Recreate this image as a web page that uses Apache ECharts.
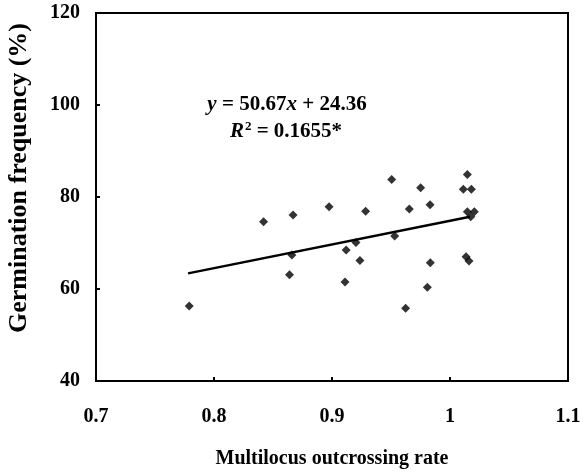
<!DOCTYPE html>
<html><head><meta charset="utf-8">
<script src="https://cdn.jsdelivr.net/npm/echarts@6/dist/echarts.min.js"></script>
<style>html,body{margin:0;padding:0;background:#fff}#c{width:583px;height:472px}</style>
</head><body><div id="c"></div>
<script>
var outcrossing = [0.779,0.842,0.867,0.8975,0.866,0.864,0.912,0.911,0.9506,0.9751,0.9285,0.9655,0.9831,1.0147,1.0113,1.0181,1.0147,1.0206,1.0176,0.9203,0.9531,0.9237,0.9833,0.9808,0.9624,1.0136,1.0161];
var germination = [56.3,74.6,76.1,77.9,67.4,63.1,68.5,61.5,83.8,82.0,76.9,77.4,78.3,84.9,81.7,81.7,76.8,76.8,75.7,70.1,71.5,66.2,65.7,60.4,55.8,67.0,66.1];
var fitLineX = [0.778, 1.017];
var fitLineY = [63.4, 75.7];
var xTicks = [0.7, 0.8, 0.9, 1.0, 1.1];
var yTicks = [40, 60, 80, 100, 120];

var pts = outcrossing.map(function(x,i){return [x, germination[i]];});
var fit = fitLineX.map(function(x,i){return [x, fitLineY[i]];});
var F = 'Liberation Serif';
var chart = echarts.init(document.getElementById('c'), null, {renderer:'canvas'});
chart.setOption({
  animation:false,
  grid:{left:96,right:15,top:13,bottom:91,show:true,borderColor:'#000',borderWidth:2,containLabel:false,outerBoundsMode:'none'},
  xAxis:{type:'value',min:0.7,max:1.1,interval:0.1,
    axisLine:{show:true,onZero:false,lineStyle:{color:'#000',width:2}},
    axisTick:{show:true,inside:true,length:4,lineStyle:{color:'#000',width:2}},
    splitLine:{show:false},
    axisLabel:{margin:26,color:'#000',fontFamily:F,fontWeight:'bold',fontSize:20,
      formatter:function(v){var t=xTicks.find(function(k){return Math.abs(k-v)<1e-6;});return t===undefined?'':String(t);}},
    name:'Multilocus outcrossing rate',nameLocation:'middle',nameGap:68,
    nameTextStyle:{color:'#000',fontFamily:F,fontWeight:'bold',fontSize:20}},
  yAxis:{type:'value',min:40,max:120,interval:20,
    axisLine:{show:true,onZero:false,lineStyle:{color:'#000',width:2}},
    axisTick:{show:true,inside:true,length:4,lineStyle:{color:'#000',width:2}},
    splitLine:{show:false},
    axisLabel:{margin:16,color:'#000',fontFamily:F,fontWeight:'bold',fontSize:20,
      formatter:function(v){var t=yTicks.find(function(k){return Math.abs(k-v)<1e-6;});return t===undefined?'':String(t);}},
    name:''},
  graphic:[
    {type:'text',x:19,y:178,rotation:Math.PI/2,style:{text:'Germination frequency (%)',align:'center',verticalAlign:'middle',
      fill:'#000',fontFamily:F,fontWeight:'bold',fontSize:26}},
    {type:'text',x:287,y:105,style:{text:'{i|y} = 50.67{i|x} + 24.36',align:'center',verticalAlign:'middle',
      fill:'#000',fontFamily:F,fontWeight:'bold',fontSize:21,
      rich:{i:{fontStyle:'italic',fontWeight:'bold',fontFamily:F,fontSize:21}}}},
    {type:'text',x:286,y:131,style:{text:'{i|R}{s|2}{n| = 0.1655*}',align:'center',verticalAlign:'middle',
      fill:'#000',fontFamily:F,fontWeight:'bold',fontSize:21,
      rich:{i:{fontStyle:'italic',fontWeight:'bold',fontFamily:F,fontSize:21,verticalAlign:'bottom'},
            n:{fontWeight:'bold',fontFamily:F,fontSize:21,verticalAlign:'bottom'},
            s:{fontWeight:'bold',fontFamily:F,fontSize:13,verticalAlign:'bottom',padding:[0,0,9,1]}}}}
  ],
  series:[
    {type:'scatter',data:pts,symbol:'diamond',symbolSize:9,itemStyle:{color:'#000'},z:3},
    {type:'line',data:fit,symbol:'none',lineStyle:{color:'#000',width:2.5},z:2}
  ]
});
</script></body></html>
